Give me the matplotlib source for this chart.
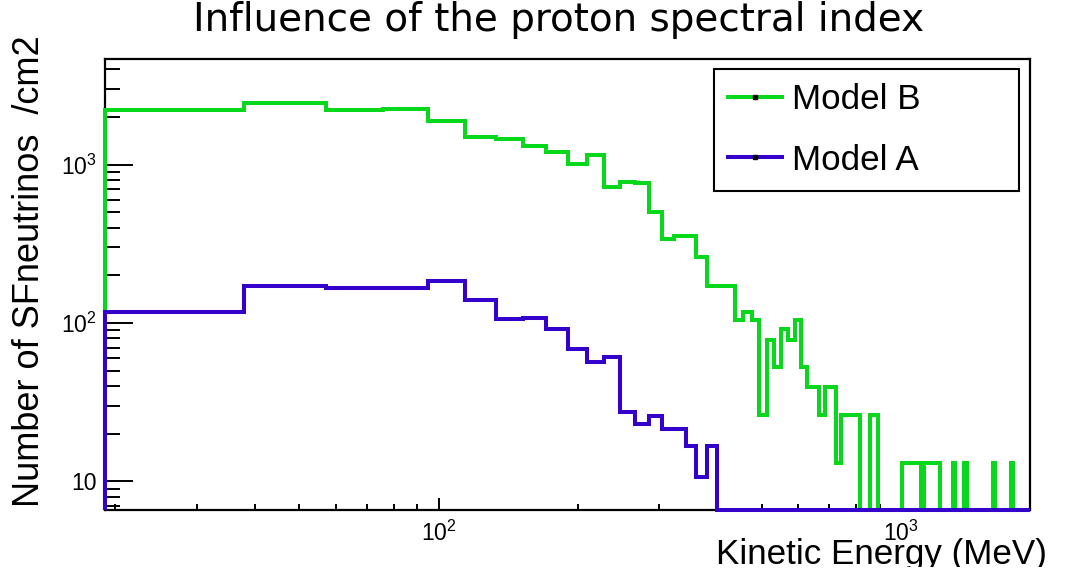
import numpy as np
import matplotlib
matplotlib.use("Agg")
import matplotlib.pyplot as plt
from matplotlib.ticker import LogLocator, FuncFormatter, NullFormatter
from matplotlib.lines import Line2D
from matplotlib.transforms import Bbox, TransformedBbox

# ---------------- data ----------------
bin_width = 19.0          # MeV, linear bins
e_low = 19.0
e_high = 1900.0

model_b = [2216, 2443, 2193, 2249, 1888, 1496, 1447, 1318, 1191, 1010,
           1156, 726, 774, 764, 501, 340, 355, 355, 260, 170,
           170, 170, 104, 118, 105, 26.2, 78.5, 52.5, 92, 78.5,
           105, 52.5, 39.5, 39.5, 26.2, 39.5, 39.5, 13.1, 26.2, 26.2,
           26.2, 26.2, 0, 0, 26.2, 26.2, 0, 0, 0, 0,
           0, 0, 13.1, 13.1, 13.1, 13.1, 13.1, 0, 13.1, 13.1,
           13.1, 13.1, 13.1, 0, 0, 0, 0, 13.1, 0, 0,
           0, 13.1, 0, 0, 0, 0, 0, 0, 0, 0,
           0, 0, 13.1, 0, 0, 0, 0, 0, 0, 0,
           13.1, 0, 0, 0, 0, 0, 0, 0, 0]

model_a = [117, 171, 166, 166, 184, 140, 105.6, 108, 91.8, 68.6,
           56.5, 60.8, 27.3, 23.0, 25.7, 21.4, 21.4, 16.7, 10.7, 16.7] + [0] * 79

labels = ["Model B", "Model A"]
title = "Influence of the proton spectral index"
xlabel = "Kinetic Energy (MeV)"
ylabel = "Number of SFneutrinos  /cm2"

y_min, y_max = 6.6, 4633.0

# ---------------- style ----------------
plt.rcParams['font.family'] = ['Liberation Sans', 'DejaVu Sans']
plt.rcParams['mathtext.fontset'] = 'custom'
plt.rcParams['mathtext.rm'] = 'Liberation Sans'
plt.rcParams['mathtext.it'] = 'Liberation Sans:italic'
plt.rcParams['mathtext.bf'] = 'Liberation Sans:bold'

c_green = '#08d81c'
c_blue = '#3400cc'

W, H = 1092, 584
fig = plt.figure(figsize=(W / 100, H / 100), dpi=100)
ax = fig.add_axes([105 / W, (H - 510) / H, (1030 - 105) / W, (510 - 59) / H])

edges = np.arange(e_low, e_high + bin_width / 2, bin_width)


def for_log(v):
    v = np.asarray(v, dtype=float)
    return np.where(v > 0, v, y_min)


ax.stairs(for_log(model_b), edges, baseline=y_min, color=c_green, lw=2.9,
          clip_on=False, zorder=3)
ax.stairs(for_log(model_a), edges, baseline=y_min, color=c_blue, lw=2.9,
          clip_on=False, zorder=3)

ax.set_xscale('log')
ax.set_yscale('log')
ax.set_xlim(e_low, e_high)
ax.set_ylim(y_min, y_max)


def fmt(v, pos):
    e = int(round(np.log10(v)))
    if e == 1:
        return '10'
    return r'$\mathregular{10^{%d}}$' % e


ax.xaxis.set_major_locator(LogLocator(base=10))
ax.yaxis.set_major_locator(LogLocator(base=10))
ax.xaxis.set_minor_locator(LogLocator(base=10, subs=np.arange(2, 10)))
ax.yaxis.set_minor_locator(LogLocator(base=10, subs=np.arange(2, 10)))
ax.xaxis.set_major_formatter(FuncFormatter(fmt))
ax.yaxis.set_major_formatter(FuncFormatter(fmt))
ax.xaxis.set_minor_formatter(NullFormatter())
ax.yaxis.set_minor_formatter(NullFormatter())

ax.tick_params(axis='both', which='both', direction='in', top=False, right=False,
               width=1.4, colors='black', labelsize=16.5)
ax.tick_params(axis='y', which='major', length=20.5, pad=6)
ax.tick_params(axis='y', which='minor', length=10.5)
ax.tick_params(axis='x', which='major', length=9, pad=8)
ax.tick_params(axis='x', which='minor', length=4.5)

for s in ax.spines.values():
    s.set_linewidth(1.6)
    s.set_color('black')

# legend
handles = [Line2D([], [], color=c_green, lw=2.9, marker='s', ms=2.2,
                  mfc='black', mec='black'),
           Line2D([], [], color=c_blue, lw=2.9, marker='s', ms=2.2,
                  mfc='black', mec='black')]
leg = ax.legend(handles, labels, loc='upper left',
                bbox_to_anchor=(714 / W, (H - 69.3) / H, (1019 - 714) / W, 0.0),
                bbox_transform=fig.transFigure, mode='expand', borderaxespad=0,
                fontsize=25.2, handlelength=1.55, handletextpad=0.28,
                borderpad=0.40, labelspacing=0.78, numpoints=1,
                fancybox=False, framealpha=1, edgecolor='black')
leg.get_frame().set_linewidth(1.5)

# texts
fig.text(559 / W, (H - 30.7) / H, title, ha='center', va='baseline',
         fontsize=28, family=['DejaVu Sans'])
fig.text(30 / W, (H - 271.5) / H, ylabel, rotation=90, ha='center', va='center',
         fontsize=26)
xt = fig.text(1047 / W, (H - 564.3) / H, xlabel, ha='right', va='baseline',
              fontsize=25.2)
xt.set_clip_box(TransformedBbox(Bbox.from_extents(0, (H - 567) / H, 1, 1),
                                fig.transFigure))
xt.set_clip_on(True)

fig.savefig('out.png', dpi=100)
